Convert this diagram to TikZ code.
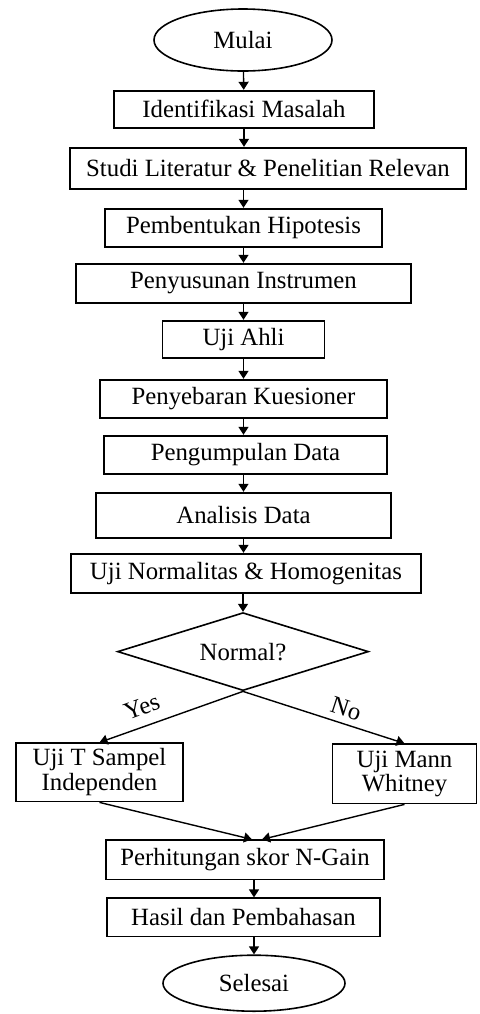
\documentclass[tikz,border=0pt]{standalone}
\usepackage{fontspec}
\setmainfont{Liberation Serif}
\usetikzlibrary{positioning, shapes.geometric, arrows.meta}

\tikzset{
  proses/.style={draw, line width=0.9pt, rectangle, inner sep=1pt, align=center},
  terminal/.style={draw, line width=0.8pt, ellipse, inner sep=0pt},
  keputusan/.style={draw, line width=0.8pt, diamond, aspect=3.16, inner sep=0pt},
  alur/.style={-{Triangle[length=4pt,width=5pt]}, line width=0.7pt},
}

\begin{document}
\begin{tikzpicture}[font=\fontsize{12.4}{12.4}\selectfont]
\useasboundingbox (0,0) rectangle (239.5pt,-507pt);

\node[terminal, minimum width=89pt, minimum height=31pt] (mulai) at (121.5pt,-20pt) {Mulai};
\node[proses, below=9pt of mulai, xshift=0.5pt, minimum width=130pt, minimum height=18.6pt] (identifikasi) {Identifikasi Masalah};
\node[proses, below=9pt of identifikasi, xshift=12pt, minimum width=198pt, minimum height=20.6pt] (studi) {Studi Literatur \& Penelitian Relevan};
\node[proses, below=9pt of studi, xshift=-12.25pt, minimum width=138.5pt, minimum height=19.1pt] (hipotesis) {Pembentukan Hipotesis};
\node[proses, below=7.5pt of hipotesis, minimum width=167.5pt, minimum height=19.6pt] (instrumen) {Penyusunan Instrumen};
\node[proses, below=8pt of instrumen, minimum width=81pt, minimum height=18.6pt] (uji-ahli) {Uji Ahli};
\node[proses, below=10pt of uji-ahli, minimum width=143.5pt, minimum height=19.1pt] (kuesioner) {Penyebaran Kuesioner};
\node[proses, below=8pt of kuesioner, xshift=1pt, minimum width=141.5pt, minimum height=19.1pt] (data-kumpul) {Pengumpulan Data};
\node[proses, below=8.5pt of data-kumpul, xshift=-1pt, minimum width=147.5pt, minimum height=22.6pt] (analisis) {Analisis Data};
\node[proses, below=7pt of analisis, xshift=1.25pt, minimum width=175pt, minimum height=19.6pt] (uji-normal) {Uji Normalitas \& Homogenitas};

\node[keputusan, below=9pt of uji-normal, xshift=-1.5pt, minimum width=125.5pt, minimum height=39pt] (normal) {Normal?};
\node[proses, below=25.5pt of normal, xshift=-71.75pt, minimum width=83.5pt, minimum height=29.1pt] (uji-t) {Uji T Sampel\\Independen};
\node[proses, below=26pt of normal, xshift=80.75pt, minimum width=72pt, minimum height=29.6pt] (mann-whitney) {Uji Mann\\Whitney};

\node[proses, below=74pt of normal, xshift=1pt, minimum width=139pt, minimum height=19.6pt] (n-gain) {Perhitungan skor N-Gain};
\node[proses, below=8.5pt of n-gain, xshift=-0.75pt, minimum width=136.5pt, minimum height=19.1pt] (hasil) {Hasil dan Pembahasan};
\node[terminal, below=8.5pt of hasil, xshift=5.25pt, minimum width=91pt, minimum height=28pt] (selesai) {Selesai};

\draw[alur] (mulai) -- (identifikasi);
\draw[alur] (identifikasi) -- (studi.north -| identifikasi);
\draw[alur] (studi.south -| hipotesis) -- (hipotesis);
\draw[alur] (hipotesis) -- (instrumen);
\draw[alur] (instrumen) -- (uji-ahli);
\draw[alur] (uji-ahli) -- (kuesioner);
\draw[alur] (kuesioner.south -| uji-ahli) -- (data-kumpul.north -| uji-ahli);
\draw[alur] (data-kumpul.south -| uji-ahli) -- (analisis.north -| uji-ahli);
\draw[alur] (analisis.south -| uji-ahli) -- (uji-normal.north -| uji-ahli);
\draw[alur] (uji-normal.south -| normal) -- (normal);

\draw[alur] (normal.south) -- (uji-t.north)
  node[pos=0.66, anchor=south, rotate=20, inner sep=5pt] (ya) {Yes};
\draw[alur] (normal.south) -- (mann-whitney.north)
  node[pos=0.61, anchor=south, rotate=-18, inner sep=3pt] (tidak) {No};

\draw[alur] (uji-t.south) -- ([xshift=3.5pt]n-gain.north);
\draw[alur] (mann-whitney.south) -- ([xshift=8.5pt]n-gain.north);
\draw[alur] (n-gain.south -| selesai) -- (hasil.north -| selesai);
\draw[alur] (hasil.south -| selesai) -- (selesai);

\end{tikzpicture}
\end{document}
